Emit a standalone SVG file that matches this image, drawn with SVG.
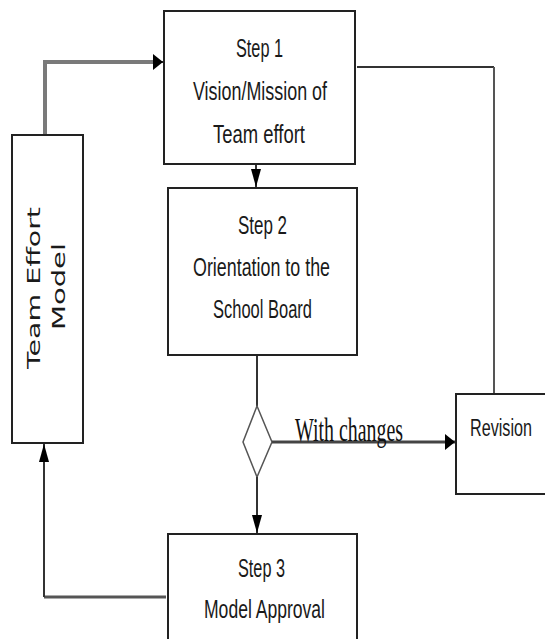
<svg xmlns="http://www.w3.org/2000/svg" width="545" height="639" viewBox="0 0 545 639">
<style>
.box{fill:#fff;stroke:#222;stroke-width:2}
.t{font-family:"Liberation Sans",Arial,sans-serif;font-size:25px;fill:#1a1a1a;text-anchor:middle}
.v{font-family:"DejaVu Sans",Verdana,sans-serif;font-size:18px;fill:#1a1a1a;text-anchor:middle}
.s{font-family:"Liberation Serif","Times New Roman",serif;font-size:33px;fill:#111}
.ln{fill:none;stroke:#333;stroke-width:2}
.gr{fill:none;stroke:#7a7a7a;stroke-width:4}
</style>
<defs>
<marker id="ah" viewBox="0 0 10 10" refX="10" refY="5" markerWidth="10" markerHeight="16" markerUnits="userSpaceOnUse" orient="auto" preserveAspectRatio="none">
<path d="M0,0 L10,5 L0,10 z" fill="#000"/>
</marker>
<marker id="av" viewBox="0 0 10 10" refX="10" refY="5" markerWidth="18" markerHeight="10" markerUnits="userSpaceOnUse" orient="auto" preserveAspectRatio="none">
<path d="M0,0 L10,5 L0,10 z" fill="#000"/>
</marker>
</defs>
<g id="connectors">
<path class="gr" d="M45,135 V62 H154"/>
<path d="M154,62 H163" class="ln" marker-end="url(#ah)"/>
<path class="ln" d="M357,67 H494" stroke-width="3"/>
<path d="M494,67 V394" fill="none" stroke="#555" stroke-width="2"/>
<path class="ln" d="M256,165 V187" marker-end="url(#av)"/>
<path class="ln" d="M257,356 V406"/>
<polygon points="257,406 272,442 257,477 243,442" fill="#fff" stroke="#555" stroke-width="1.5"/>
<path d="M272,442 H455" fill="none" stroke="#444" stroke-width="3" marker-end="url(#ah)"/>
<path class="ln" d="M257,477 V533" marker-end="url(#av)"/>
<path d="M166,597 H44" fill="none" stroke="#555" stroke-width="3"/>
<path class="ln" d="M44,597 V444" marker-end="url(#av)"/>
<text class="s" x="295" y="441" textLength="108" lengthAdjust="spacingAndGlyphs">With changes</text>
</g>
<g id="step1">
<rect class="box" x="164" y="11" width="191" height="153"/>
<text class="t" x="259.5" y="57" textLength="47" lengthAdjust="spacingAndGlyphs">Step 1</text>
<text class="t" x="260" y="100" textLength="134" lengthAdjust="spacingAndGlyphs">Vision/Mission of</text>
<text class="t" x="259" y="143" textLength="92" lengthAdjust="spacingAndGlyphs">Team effort</text>
</g>
<g id="step2">
<rect class="box" x="168" y="188" width="189" height="167"/>
<text class="t" x="262.5" y="234" textLength="49" lengthAdjust="spacingAndGlyphs">Step 2</text>
<text class="t" x="261.5" y="276" textLength="137" lengthAdjust="spacingAndGlyphs">Orientation to the</text>
<text class="t" x="262.5" y="318" textLength="99" lengthAdjust="spacingAndGlyphs">School Board</text>
</g>
<g id="step3">
<path class="box" d="M168,639 V534 H357 V639"/>
<text class="t" x="261.5" y="577" textLength="47" lengthAdjust="spacingAndGlyphs">Step 3</text>
<text class="t" x="264.5" y="618" textLength="121" lengthAdjust="spacingAndGlyphs">Model Approval</text>
</g>
<g id="revision">
<path class="box" d="M545,394 H456 V494 H545"/>
<text class="t" style="font-size:19px" transform="translate(501,436) scale(0.85,1.3)" x="0" y="0">Revision</text>
</g>
<g id="team-effort-model">
<rect class="box" x="12" y="135" width="71" height="308"/>
<text class="v" transform="translate(40,288) rotate(-90)" textLength="162" lengthAdjust="spacingAndGlyphs">Team Effort</text>
<text class="v" transform="translate(65,286.5) rotate(-90)" textLength="87" lengthAdjust="spacingAndGlyphs">Model</text>
</g>
</svg>
